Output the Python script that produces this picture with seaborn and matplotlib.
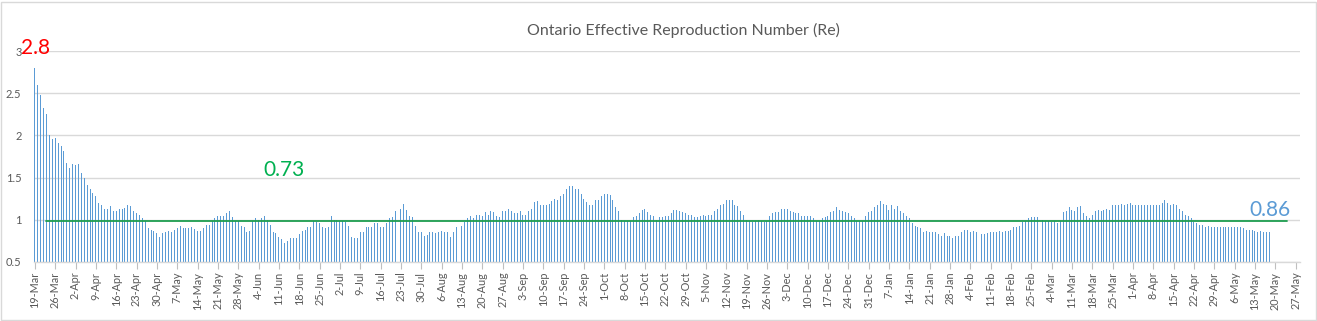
import numpy as np
import pandas as pd
import matplotlib
matplotlib.use("Agg")
import matplotlib.pyplot as plt
import seaborn as sns

# ---------------- data ----------------
start_date = "2020-03-19"
re_values = [
    # 19-Mar-2020 ...
    2.80, 2.60, 2.48, 2.33, 2.25, 2.01, 1.96, 1.97, 1.91, 1.88,
    1.82, 1.67, 1.61, 1.66, 1.65, 1.66, 1.56, 1.49, 1.41, 1.36,
    1.32, 1.28, 1.20, 1.17, 1.13, 1.13, 1.16, 1.11, 1.11, 1.13,
    1.13, 1.14, 1.17, 1.16, 1.11, 1.08, 1.06, 1.02, 0.99, 0.90,
    0.88, 0.87, 0.84, 0.80, 0.84, 0.86, 0.87, 0.86, 0.88, 0.90,
    0.93, 0.90,
    0.90, 0.90, 0.91, 0.89, 0.87, 0.87, 0.90, 0.94, 0.94, 0.98,
    1.02, 1.04, 1.04, 1.05, 1.08, 1.10, 1.03, 0.99, 0.98, 0.93,
    0.91, 0.86, 0.87, 0.98, 1.02, 1.00, 1.02, 1.05, 1.00, 0.94,
    0.85, 0.84, 0.80, 0.77, 0.72, 0.75, 0.78, 0.79, 0.79, 0.83,
    0.87, 0.88, 0.91, 0.91, 0.99, 0.97, 0.96, 0.92, 0.90, 0.91,
    1.04, 1.00, 1.00, 0.98, 0.99,
    0.97, 0.93, 0.80, 0.78, 0.79, 0.85, 0.85, 0.91, 0.92, 0.92,
    0.96, 0.96, 0.91, 0.91, 0.96, 1.02, 1.03, 1.11, 1.18, 1.13,
    1.19, 1.12, 1.05, 1.03, 0.93, 0.85, 0.85, 0.81, 0.82, 0.85,
    0.85, 0.84, 0.85, 0.87, 0.85, 0.85, 0.80, 0.86, 0.91, 0.92,
    0.93, 0.97, 1.02, 1.04, 1.02, 1.06, 1.06, 1.05, 1.09, 1.06,
    1.10, 1.09, 1.04,
    1.03, 1.10, 1.11, 1.13, 1.11, 1.08, 1.08, 1.10, 1.06, 1.06,
    1.11, 1.13, 1.21, 1.22, 1.18, 1.17, 1.18, 1.19, 1.22, 1.25,
    1.23, 1.28, 1.30, 1.36, 1.40, 1.40, 1.36, 1.36, 1.30, 1.25,
    1.21, 1.17, 1.17, 1.23, 1.23, 1.28, 1.30, 1.30, 1.29, 1.23,
    1.15, 1.10, 1.00, 0.99, 0.99, 0.99, 1.03, 1.05, 1.08, 1.12,
    1.13, 1.09, 1.06, 1.04,
    1.00, 1.03, 1.03, 1.04, 1.05, 1.08, 1.12, 1.12, 1.11, 1.09,
    1.08, 1.06, 1.06, 1.03, 1.03, 1.04, 1.06, 1.05, 1.06, 1.06,
    1.11, 1.13, 1.17, 1.19, 1.23, 1.23, 1.23, 1.17, 1.16, 1.10,
    1.06, 1.00, 0.99, 0.97, 0.99, 1.00, 0.98, 0.97, 0.99, 1.04,
    1.08, 1.09, 1.09, 1.13, 1.13, 1.13, 1.11, 1.09, 1.08, 1.08,
    1.05, 1.05, 1.05,
    1.04, 1.02, 0.99, 0.99, 1.02, 1.03, 1.05, 1.09, 1.11, 1.15,
    1.12, 1.10, 1.09, 1.08, 1.04, 1.02, 0.99, 0.99, 0.99, 1.04,
    1.09, 1.10, 1.15, 1.17, 1.22, 1.19, 1.17, 1.12, 1.17, 1.13,
    1.16, 1.11, 1.08, 1.04, 1.02, 0.96, 0.93, 0.91, 0.90, 0.86,
    0.87, 0.86, 0.86, 0.85, 0.83, 0.81, 0.84, 0.81, 0.81, 0.79,
    0.81, 0.81, 0.85,
    0.88, 0.88, 0.86, 0.87, 0.85, 0.85, 0.83, 0.83, 0.84, 0.85,
    0.85, 0.86, 0.87, 0.86, 0.87, 0.87, 0.88, 0.91, 0.92, 0.93,
    0.97, 0.99, 1.02, 1.03, 1.03, 1.03, 1.02, 1.00, 0.98, 0.99,
    0.97, 0.98, 0.96, 0.98, 1.09, 1.11, 1.15, 1.12, 1.11, 1.15,
    1.16, 1.08, 1.04, 1.02, 1.06, 1.10, 1.12, 1.11, 1.12, 1.13,
    1.12, 1.17,
    1.17, 1.18, 1.19, 1.18, 1.19, 1.20, 1.17, 1.18, 1.17, 1.17,
    1.17, 1.17, 1.17, 1.17, 1.18, 1.17, 1.20, 1.23, 1.20, 1.18,
    1.19, 1.17, 1.13, 1.10, 1.06, 1.04, 1.02, 0.97, 0.96, 0.94,
    0.94, 0.92, 0.93, 0.91, 0.92, 0.91, 0.91, 0.91, 0.91, 0.91,
    0.92, 0.91, 0.91, 0.91, 0.90, 0.88, 0.88, 0.88, 0.87, 0.86,
    0.87, 0.86, 0.85, 0.86,
]
tick_dates = list(pd.date_range("2020-03-19", "2021-05-27", freq="7D"))
tick_labels = [f"{d.day}-{d.strftime('%b')}" for d in tick_dates]
ref_level = 0.99
ref_dates = ["2020-03-23", "2021-05-24"]
peak_label, low_label, last_label = "2.8", "0.73", "0.86"
y_ticks = [0.5, 1, 1.5, 2, 2.5, 3]
y_tick_labels = ["0.5", "1", "1.5", "2", "2.5", "3"]

# ---------------- build ----------------
t0 = pd.Timestamp(start_date)
dates = pd.date_range(start_date, periods=len(re_values), freq="D")
df = pd.DataFrame({"day": (dates - t0).days, "re": re_values})
tick_pos = [(d - t0).days for d in tick_dates]
ref_x = [(pd.Timestamp(d) - t0).days for d in ref_dates]

sns.set_theme(style="white")
plt.rcParams["font.family"] = ["Lato", "DejaVu Sans"]

W, H = 1317, 321
fig = plt.figure(figsize=(W / 100, H / 100), dpi=100)
ax = fig.add_axes([34 / W, 1 - 262 / H, (1300 - 34) / W, (262 - 51) / H])

grey_txt = "#595959"
grid_c = "#D9D9D9"
bar_c = "#5B9BD5"

for yv in y_ticks:
    ax.axhline(yv, color=grid_c, lw=1.0, zorder=0)

sns.barplot(data=df, x="day", y="re", native_scale=True, width=0.34,
            color=bar_c, saturation=1, errorbar=None, edgecolor="none",
            linewidth=0, ax=ax, zorder=2)
for p in ax.patches:
    p.set_antialiased(False)

sns.lineplot(x=ref_x, y=[ref_level, ref_level], color="#1E9E50", lw=1.3,
             ax=ax, zorder=3)

ax.set_xlim(-0.3, 435.5)
ax.set_ylim(0.5, 3.0)
ax.set_yticks(y_ticks)
ax.set_yticklabels(y_tick_labels, fontsize=8, color=grey_txt)
ax.set_xticks(tick_pos)
ax.set_xticklabels(tick_labels, rotation=90, fontsize=7.8, color=grey_txt)
ax.tick_params(axis="y", length=0, pad=9)
ax.tick_params(axis="x", length=5, width=0.8, color="#BFBFBF", pad=2,
               direction="out", bottom=True)
ax.set_xlabel("")
ax.set_ylabel("")
for s in ["top", "right", "left"]:
    ax.spines[s].set_visible(False)
ax.spines["bottom"].set_color(grid_c)
ax.spines["bottom"].set_linewidth(1.0)

fig.text(683 / W, 1 - 30 / H, "Ontario Effective Reproduction Number (Re)",
         ha="center", va="center", fontsize=11.5, color=grey_txt)
fig.text(35 / W, 1 - 48 / H, peak_label, ha="center", va="center",
         fontsize=15, color="#FF0000")
fig.text(284 / W, 1 - 170 / H, low_label, ha="center", va="center",
         fontsize=15, color="#00B050")
fig.text(1270 / W, 1 - 210 / H, last_label, ha="center", va="center",
         fontsize=15, color=bar_c)

fig.patches.append(plt.Rectangle((0.5 / W, 1.5 / H), (W - 2) / W, (H - 3) / H,
                                 transform=fig.transFigure, fill=False,
                                 edgecolor="#D9D9D9", lw=1.0))

fig.savefig("out.png", dpi=100)
